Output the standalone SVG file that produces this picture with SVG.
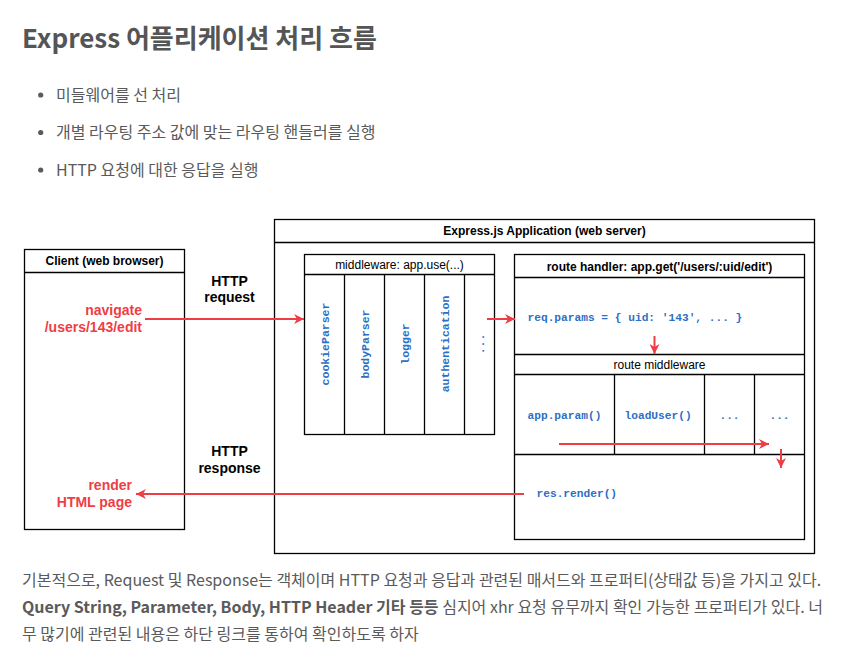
<svg xmlns="http://www.w3.org/2000/svg" width="846" height="670" viewBox="0 0 846 670">
<defs>
<style>
.page{font-family:"Noto Sans CJK KR","Noto Sans",sans-serif;fill:#5a5a5a;font-size:16px}
.title{font-family:"Noto Sans CJK KR","Noto Sans",sans-serif;fill:#555;font-size:26px;font-weight:bold}
.box{fill:#fff;stroke:#000;stroke-width:1.3}
.ln{stroke:#000;stroke-width:1.3;fill:none}
.hd{font-family:"Liberation Sans",Arial,sans-serif;font-weight:bold;font-size:12px;fill:#000;text-anchor:middle}
.lbl{font-family:"Liberation Sans",Arial,sans-serif;font-size:12px;fill:#000;text-anchor:middle}
.http{font-family:"Liberation Sans",Arial,sans-serif;font-weight:bold;font-size:14px;text-anchor:middle;fill:#000}
.red{font-family:"Liberation Sans",Arial,sans-serif;font-weight:bold;font-size:14px;fill:#ef3d46;text-anchor:end}
.code{font-family:"Liberation Mono","Courier New",monospace;font-weight:bold;font-size:11.2px;fill:#2d6fc4}
.vc{font-family:"Liberation Mono","Courier New",monospace;font-weight:bold;font-size:11.5px;fill:#2d6fc4;text-anchor:middle}
.arr{stroke:#ef3d46;stroke-width:2;fill:none;marker-end:url(#ah)}
</style>
<marker id="ah" viewBox="0 0 10 10" refX="10" refY="5" markerWidth="11" markerHeight="10" orient="auto" markerUnits="userSpaceOnUse">
<path d="M0,0 L10,5 L0,10 L3,5 Z" fill="#ef3d46"/>
</marker>
</defs>
<rect width="846" height="670" fill="#fff"/>

<g id="page-text">
<text class="title" x="22" y="48">Express 어플리케이션 처리 흐름</text>
<circle cx="40.7" cy="95" r="2.6" fill="#5a5a5a"/>
<circle cx="40.7" cy="132.5" r="2.6" fill="#5a5a5a"/>
<circle cx="40.7" cy="170" r="2.6" fill="#5a5a5a"/>
<text class="page" x="56" y="100.5">미들웨어를 선 처리</text>
<text class="page" x="56" y="138">개별 라우팅 주소 값에 맞는 라우팅 핸들러를 실행</text>
<text class="page" x="56" y="175.5">HTTP 요청에 대한 응답을 실행</text>
<text class="page" x="22" y="586">기본적으로, Request 및 Response는 객체이며 HTTP 요청과 응답과 관련된 매서드와 프로퍼티(상태값 등)을 가지고 있다.</text>
<text class="page" x="22" y="613"><tspan font-weight="bold">Query String, Parameter, Body, HTTP Header 기타 등등</tspan> 심지어 xhr 요청 유무까지 확인 가능한 프로퍼티가 있다. 너</text>
<text class="page" x="22" y="640">무 많기에 관련된 내용은 하단 링크를 통하여 확인하도록 하자</text>
</g>

<g id="express-app">
<rect class="box" x="274.5" y="219.5" width="540" height="334"/>
<line class="ln" x1="274.5" y1="242.5" x2="814.5" y2="242.5"/>
<text class="hd" x="544.5" y="235">Express.js Application (web server)</text>
</g>

<g id="client">
<rect class="box" x="24.5" y="249.5" width="160" height="280"/>
<line class="ln" x1="24.5" y1="272.5" x2="184.5" y2="272.5"/>
<text class="hd" x="104.5" y="265">Client (web browser)</text>
<text class="red" x="142" y="315">navigate</text>
<text class="red" x="142" y="332">/users/143/edit</text>
<text class="red" x="132" y="490">render</text>
<text class="red" x="132" y="507">HTML page</text>
</g>

<g id="middleware">
<rect class="box" x="304.5" y="254.5" width="190" height="180"/>
<line class="ln" x1="304.5" y1="274.5" x2="494.5" y2="274.5"/>
<line class="ln" x1="344.5" y1="274.5" x2="344.5" y2="434.5"/>
<line class="ln" x1="384.5" y1="274.5" x2="384.5" y2="434.5"/>
<line class="ln" x1="424.5" y1="274.5" x2="424.5" y2="434.5"/>
<line class="ln" x1="464.5" y1="274.5" x2="464.5" y2="434.5"/>
<text class="lbl" x="399.5" y="268.5">middleware: app.use(...)</text>
<text class="vc" transform="translate(324.5,344) rotate(-90)" x="0" y="4">cookieParser</text>
<text class="vc" transform="translate(364.5,344) rotate(-90)" x="0" y="4">bodyParser</text>
<text class="vc" transform="translate(404.5,344) rotate(-90)" x="0" y="4">logger</text>
<text class="vc" transform="translate(444.5,344) rotate(-90)" x="0" y="4">authentication</text>
<text class="vc" transform="translate(479.5,344) rotate(-90)" x="0" y="4">...</text>
</g>

<g id="route-handler">
<rect class="box" x="514.5" y="254.5" width="290" height="285"/>
<line class="ln" x1="514.5" y1="277.5" x2="804.5" y2="277.5"/>
<line class="ln" x1="514.5" y1="354.5" x2="804.5" y2="354.5"/>
<line class="ln" x1="514.5" y1="374.5" x2="804.5" y2="374.5"/>
<line class="ln" x1="514.5" y1="454.5" x2="804.5" y2="454.5"/>
<line class="ln" x1="614.5" y1="374.5" x2="614.5" y2="454.5"/>
<line class="ln" x1="704.5" y1="374.5" x2="704.5" y2="454.5"/>
<line class="ln" x1="754.5" y1="374.5" x2="754.5" y2="454.5"/>
<text class="hd" x="659.5" y="270.5">route handler: app.get('/users/:uid/edit')</text>
<text class="code" x="527.5" y="321">req.params = { uid: '143', ... }</text>
<text class="lbl" x="659.5" y="368.5">route middleware</text>
<text class="code" x="527.5" y="418.5">app.param()</text>
<text class="code" x="624.5" y="418.5">loadUser()</text>
<text class="code" x="729.5" y="418.5" text-anchor="middle">...</text>
<text class="code" x="779.5" y="418.5" text-anchor="middle">...</text>
<text class="code" x="536.5" y="497">res.render()</text>
</g>

<g id="http-labels">
<text class="http" x="229.5" y="286">HTTP</text>
<text class="http" x="229.5" y="302">request</text>
<text class="http" x="229.5" y="456">HTTP</text>
<text class="http" x="229.5" y="472.5">response</text>
</g>

<g id="connectors">
<line class="arr" x1="145" y1="319" x2="304" y2="319"/>
<line class="arr" x1="487" y1="319" x2="515" y2="319"/>
<line class="arr" x1="654.5" y1="336" x2="654.5" y2="354"/>
<line class="arr" x1="559" y1="444" x2="769" y2="444"/>
<line class="arr" x1="781" y1="449" x2="781" y2="468"/>
<line class="arr" x1="524" y1="494" x2="136" y2="494"/>
</g>
</svg>
